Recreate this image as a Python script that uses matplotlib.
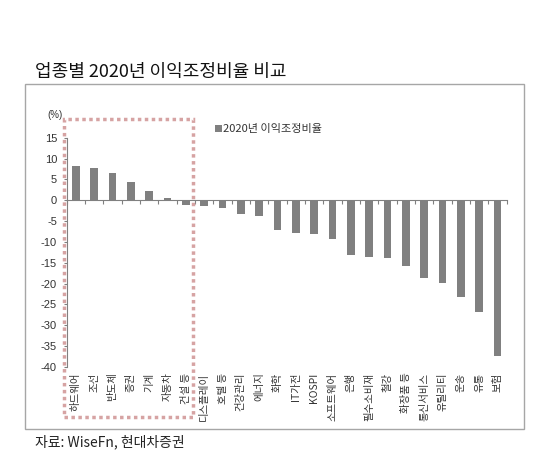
import matplotlib
matplotlib.use("Agg")
import matplotlib.pyplot as plt
from matplotlib.patches import Rectangle

plt.rcParams["font.family"] = ["Noto Sans CJK KR", "DejaVu Sans"]

# 업종별 2020년 이익조정비율 (%)
sectors = [
    "하드웨어", "조선", "반도체", "증권", "기계", "자동차", "건설 등",
    "디스플레이", "호텔 등", "건강관리", "에너지", "화학", "IT가전", "KOSPI",
    "소프트웨어", "은행", "필수소비재", "철강", "화장품 등", "통신서비스",
    "유틸리티", "운송", "유통", "보험",
]
ratios = [
    8.2, 7.7, 6.5, 4.5, 2.3, 0.5, -1.2,
    -1.4, -1.8, -3.2, -3.7, -7.1, -7.9, -8.0,
    -9.2, -13.2, -13.6, -13.8, -15.8, -18.6,
    -19.8, -23.2, -26.8, -37.4,
]
yticks = [15, 10, 5, 0, -5, -10, -15, -20, -25, -30, -35, -40]

W, H = 553, 454
fig = plt.figure(figsize=(W / 100, H / 100), dpi=100)

# outer frame
fig.patches.append(Rectangle((25 / W, 1 - 429 / H), 499 / W, 345 / H,
                             transform=fig.transFigure, fill=False,
                             edgecolor="#a6a6a6", lw=1.0))

ax = fig.add_axes([66.7 / W, 1 - 367 / H, 440 / W, 229.2 / H])
x = list(range(len(sectors)))
ax.bar(x, ratios, width=0.42, color="#808080", label="2020년 이익조정비율", zorder=2)

ax.set_xlim(-0.5, len(sectors) - 0.5)
ax.set_ylim(-40, 15)
ax.set_yticks(yticks)
ax.set_yticklabels([str(v) for v in yticks], family=["Liberation Sans", "Noto Sans CJK KR"])

for s in ["top", "right"]:
    ax.spines[s].set_visible(False)
ax.spines["bottom"].set_position(("data", 0))
ax.spines["bottom"].set_color("#808080")
ax.spines["left"].set_color("#808080")

ax.set_xticks([i - 0.5 for i in range(len(sectors) + 1)])
ax.set_xticklabels([])
ax.tick_params(axis="x", length=3, width=0.8, color="#808080", direction="out")
ax.tick_params(axis="y", length=2, width=0.8, color="#808080", labelsize=8,
               labelcolor="#333333", pad=5)

for i, name in enumerate(sectors):
    ax.annotate(name, (i, -40), xytext=(0, -4), textcoords="offset points",
                rotation=90, ha="center", va="top", fontsize=7.5, color="#333333",
                annotation_clip=False)

fig.text(47 / W, 1 - 115 / H, "(%)", fontsize=7, color="#333333", va="center",
         family=["Liberation Sans", "Noto Sans CJK KR"])

ax.legend(loc="upper left", bbox_to_anchor=((211 - 66.7) / 440, 1.078),
          frameon=False, fontsize=8, handlelength=0.6, handleheight=0.6,
          handletextpad=0.1, borderaxespad=0, labelcolor="#333333")

# highlighted group
fig.patches.append(Rectangle((64 / W, 1 - 417 / H), 129 / W, 298 / H,
                             transform=fig.transFigure, fill=False,
                             edgecolor="#d6a3a3", lw=2.5, linestyle=(0, (1, 1)),
                             zorder=5))

fig.text(35 / W, 1 - 72 / H, "업종별 2020년 이익조정비율 비교", fontsize=13,
         color="#111111", va="center")
fig.text(35 / W, 1 - 442 / H, "자료: WiseFn, 현대차증권", fontsize=10,
         color="#222222", va="center")

fig.savefig("out.png", dpi=100, facecolor="white")
